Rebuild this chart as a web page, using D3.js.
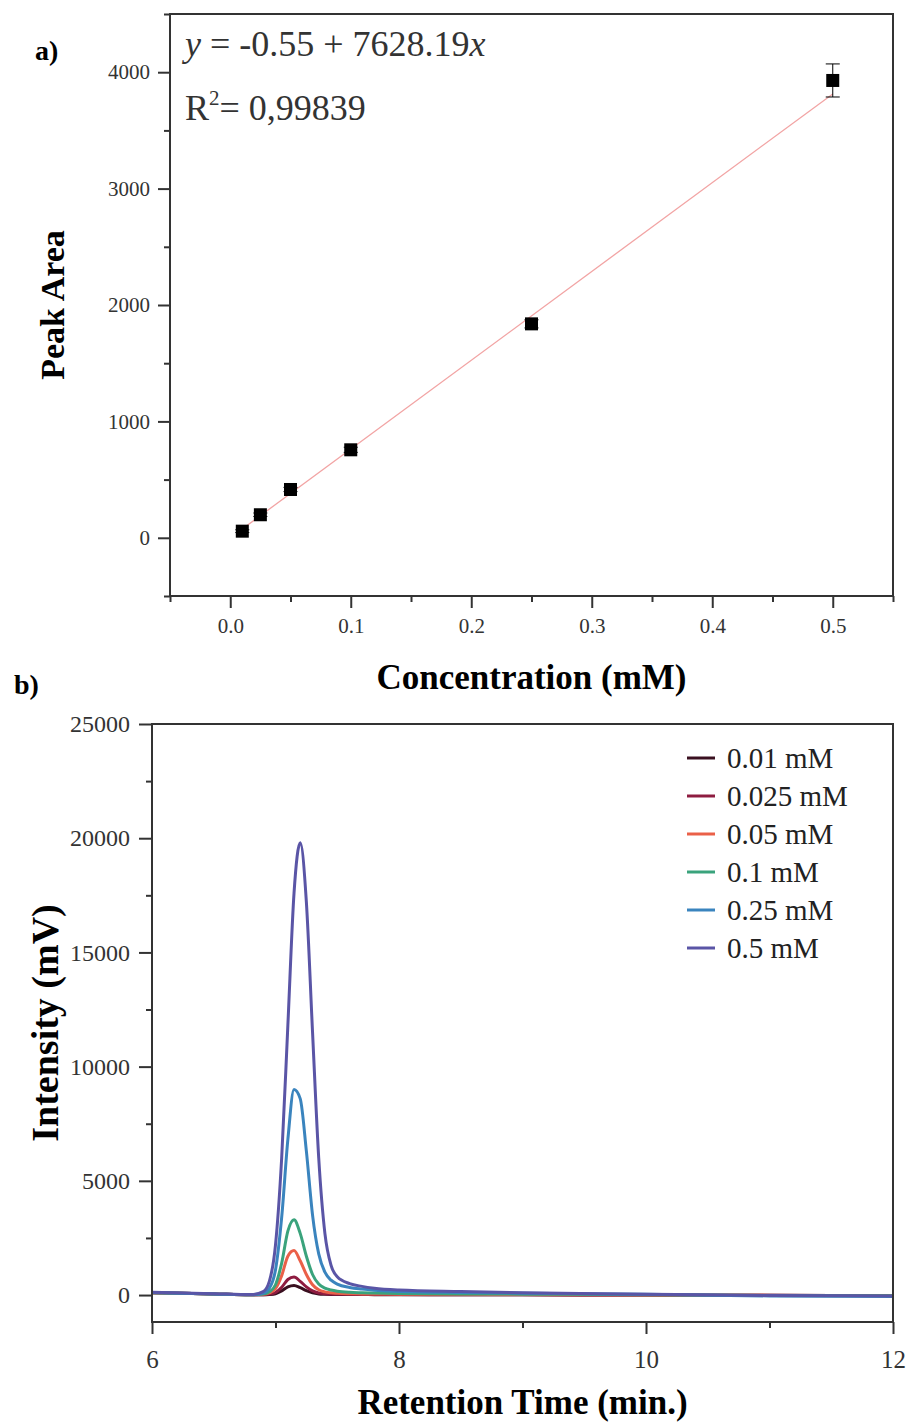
<!DOCTYPE html>
<html>
<head>
<meta charset="utf-8">
<script src="https://cdn.jsdelivr.net/npm/d3@7"></script>
<style>
  body { margin: 0; background: #fff; }
  svg { display: block; }
  text { font-family: "Liberation Serif", "Times New Roman", serif; }
</style>
</head>
<body>
<div id="chart"></div>
<script>
// ---- panel a : calibration ----
const concentrations = [0.01, 0.025, 0.05, 0.1, 0.25, 0.5];
const peakAreas      = [57, 198, 415, 756, 1838, 3929];
const areaErrors     = [12, 15, 18, 22, 35, 142];
const fitIntercept = -0.55;
const fitSlope = 7628.19;
const concTicks = [0, 0.1, 0.2, 0.3, 0.4, 0.5];
const areaTicks = [0, 1000, 2000, 3000, 4000];

// ---- panel b : chromatograms ----
const retentionTimes = [6.0, 6.5, 6.8, 6.9, 6.95, 7.0, 7.05, 7.1, 7.15, 7.2, 7.25, 7.3, 7.35, 7.4, 7.45, 7.5, 7.6, 7.7, 7.8, 8.0, 8.5, 9.0, 10.0, 11.0, 12.0];
const seriesLabels = ["0.01 mM", "0.025 mM", "0.05 mM", "0.1 mM", "0.25 mM", "0.5 mM"];
const seriesColors = ["#3a1020", "#8e1c40", "#ea6048", "#3aa37c", "#3a84be", "#5a55a6"];
const intensity001  = [100, 45, 10, 12, 25, 60, 180, 360, 420, 320, 190, 95, 50, 35, 28, 25, 22, 20, 18, 15, 12, 10, 0, -10, -20];
const intensity0025 = [100, 45, 10, 15, 40, 110, 340, 680, 790, 600, 360, 180, 90, 60, 45, 35, 30, 25, 22, 20, 15, 12, 0, -10, -20];
const intensity005  = [100, 45, 10, 30, 90, 280, 850, 1700, 1950, 1500, 900, 450, 230, 140, 100, 80, 60, 50, 45, 40, 30, 25, 5, -15, -25];
const intensity01   = [100, 45, 10, 40, 140, 450, 1400, 2800, 3300, 2700, 1700, 900, 480, 300, 220, 170, 120, 100, 85, 70, 50, 40, 10, -20, -30];
const intensity025  = [110, 50, 15, 80, 300, 1100, 3400, 6800, 9000, 8600, 6300, 3500, 1800, 1000, 650, 480, 330, 260, 210, 160, 110, 80, 30, -40, -60];
const intensity05   = [120, 60, 20, 150, 600, 2200, 6000, 11800, 17600, 19800, 17200, 11500, 6000, 2700, 1300, 800, 500, 380, 300, 220, 150, 100, 40, -20, -40];
const intensitySeries = [intensity001, intensity0025, intensity005, intensity01, intensity025, intensity05];
const timeTicks = [6, 8, 10, 12];
const intensityTicks = [0, 5000, 10000, 15000, 20000, 25000];

const width = 911, height = 1423;
const axisColor = "#333";

const svg = d3.select("#chart").append("svg")
  .attr("width", width).attr("height", height);

function minorTicks(major) {
  let out = [];
  for (let i = 0; i < major.length - 1; i++) out.push((major[i] + major[i + 1]) / 2);
  return out;
}

function styleAxis(g, fontSize) {
  g.select(".domain").remove();
  g.selectAll(".tick line").attr("stroke", axisColor).attr("stroke-width", 2);
  g.selectAll(".tick text").attr("fill", "#333").attr("font-size", fontSize)
    .attr("font-family", "Liberation Serif, serif");
}

// ================= panel a =================
let a = {left: 170, right: 893, top: 14, bottom: 596};
let xA = d3.scaleLinear().domain([-0.05, 0.55]).range([a.left, a.right]);
let yA = d3.scaleLinear().domain([-500, 4500]).range([a.bottom, a.top]);

svg.append("g").attr("transform", "translate(0," + a.bottom + ")")
  .call(d3.axisBottom(xA).tickValues([-0.05, 0.05, 0.15, 0.25, 0.35, 0.45, 0.55]).tickSize(6).tickFormat(""))
  .call(g => styleAxis(g, 21));
svg.append("g").attr("transform", "translate(0," + a.bottom + ")")
  .call(d3.axisBottom(xA).tickValues(concTicks).tickSize(12).tickPadding(10).tickFormat(d3.format(".1f")))
  .call(g => styleAxis(g, 21));
svg.append("g").attr("transform", "translate(" + a.left + ",0)")
  .call(d3.axisLeft(yA).tickValues([-500, 500, 1500, 2500, 3500, 4500]).tickSize(6).tickFormat(""))
  .call(g => styleAxis(g, 21));
svg.append("g").attr("transform", "translate(" + a.left + ",0)")
  .call(d3.axisLeft(yA).tickValues(areaTicks).tickSize(12).tickPadding(8).tickFormat(d3.format("d")))
  .call(g => styleAxis(g, 21));

svg.append("rect")
  .attr("x", a.left).attr("y", a.top)
  .attr("width", a.right - a.left).attr("height", a.bottom - a.top)
  .attr("fill", "none").attr("stroke", axisColor).attr("stroke-width", 2);

// linear fit
let fitX = [concentrations[0], concentrations[concentrations.length - 1]];
svg.append("line")
  .attr("x1", xA(fitX[0])).attr("y1", yA(fitIntercept + fitSlope * fitX[0]))
  .attr("x2", xA(fitX[1])).attr("y2", yA(fitIntercept + fitSlope * fitX[1]))
  .attr("stroke", "#f2a4a4").attr("stroke-width", 1.3);

let calib = concentrations.map((c, i) => ({c: c, v: peakAreas[i], e: areaErrors[i]}));
let eb = svg.append("g").attr("stroke", "#000").attr("stroke-width", 1);
calib.forEach(d => {
  eb.append("line").attr("x1", xA(d.c)).attr("x2", xA(d.c)).attr("y1", yA(d.v - d.e)).attr("y2", yA(d.v + d.e));
  eb.append("line").attr("x1", xA(d.c) - 7).attr("x2", xA(d.c) + 7).attr("y1", yA(d.v - d.e)).attr("y2", yA(d.v - d.e));
  eb.append("line").attr("x1", xA(d.c) - 7).attr("x2", xA(d.c) + 7).attr("y1", yA(d.v + d.e)).attr("y2", yA(d.v + d.e));
});
svg.append("g").selectAll("rect").data(calib).join("rect")
  .attr("x", d => xA(d.c) - 6.5).attr("y", d => yA(d.v) - 6.5)
  .attr("width", 13).attr("height", 13).attr("fill", "#000");

// equation
let eq = svg.append("text").attr("x", 185).attr("y", 56).attr("font-size", 36).attr("fill", "#333");
eq.append("tspan").attr("font-style", "italic").text("y");
eq.append("tspan").text(" = -0.55 + 7628.19");
eq.append("tspan").attr("font-style", "italic").text("x");
let r2 = svg.append("text").attr("x", 185).attr("y", 120).attr("font-size", 36).attr("fill", "#333");
r2.append("tspan").text("R");
r2.append("tspan").attr("font-size", 21).attr("dy", -15).text("2");
r2.append("tspan").attr("dy", 15).text("= 0,99839");

svg.append("text").attr("x", 35).attr("y", 60).attr("font-size", 28).attr("font-weight", "bold").text("a)");
svg.append("text").attr("x", (a.left + a.right) / 2).attr("y", 689)
  .attr("text-anchor", "middle").attr("font-size", 35).attr("font-weight", "bold").text("Concentration (mM)");
svg.append("text").attr("transform", "translate(64," + (a.top + a.bottom) / 2 + ") rotate(-90)")
  .attr("text-anchor", "middle").attr("font-size", 34).attr("font-weight", "bold").text("Peak Area");

// ================= panel b =================
let b = {left: 152, right: 893, top: 724, bottom: 1322};
let xB = d3.scaleLinear().domain([6, 12]).range([b.left, b.right]);
let yB = d3.scaleLinear().domain([-1180, 25000]).range([b.bottom, b.top]);

svg.append("g").attr("transform", "translate(0," + b.bottom + ")")
  .call(d3.axisBottom(xB).tickValues([7, 9, 11]).tickSize(6).tickFormat(""))
  .call(g => styleAxis(g, 25));
svg.append("g").attr("transform", "translate(0," + b.bottom + ")")
  .call(d3.axisBottom(xB).tickValues(timeTicks).tickSize(12).tickPadding(16).tickFormat(d3.format("d")))
  .call(g => styleAxis(g, 25));
svg.append("g").attr("transform", "translate(" + b.left + ",0)")
  .call(d3.axisLeft(yB).tickValues(minorTicks(intensityTicks)).tickSize(6).tickFormat(""))
  .call(g => styleAxis(g, 24));
svg.append("g").attr("transform", "translate(" + b.left + ",0)")
  .call(d3.axisLeft(yB).tickValues(intensityTicks).tickSize(13).tickPadding(9).tickFormat(d3.format("d")))
  .call(g => styleAxis(g, 24));

svg.append("clipPath").attr("id", "clipB").append("rect")
  .attr("x", b.left).attr("y", b.top).attr("width", b.right - b.left).attr("height", b.bottom - b.top);

let line = d3.line().x(d => xB(d[0])).y(d => yB(d[1])).curve(d3.curveMonotoneX);
svg.append("g").attr("clip-path", "url(#clipB)")
  .selectAll("path").data(intensitySeries).join("path")
  .attr("d", s => line(retentionTimes.map((t, i) => [t, s[i]])))
  .attr("fill", "none")
  .attr("stroke", (s, i) => seriesColors[i])
  .attr("stroke-width", 3)
  .attr("stroke-linejoin", "round");

svg.append("rect")
  .attr("x", b.left).attr("y", b.top)
  .attr("width", b.right - b.left).attr("height", b.bottom - b.top)
  .attr("fill", "none").attr("stroke", axisColor).attr("stroke-width", 2);

// legend
let legend = svg.append("g").attr("transform", "translate(687,758)");
seriesLabels.forEach((lab, i) => {
  let row = legend.append("g").attr("transform", "translate(0," + i * 38 + ")");
  row.append("line").attr("x1", 0).attr("x2", 28).attr("y1", 0).attr("y2", 0)
    .attr("stroke", seriesColors[i]).attr("stroke-width", 3);
  row.append("text").attr("x", 40).attr("y", 10).attr("font-size", 29).attr("fill", "#222").text(lab);
});

svg.append("text").attr("x", 14).attr("y", 694).attr("font-size", 28).attr("font-weight", "bold").text("b)");
svg.append("text").attr("x", (b.left + b.right) / 2).attr("y", 1414)
  .attr("text-anchor", "middle").attr("font-size", 35).attr("font-weight", "bold").text("Retention Time (min.)");
svg.append("text").attr("transform", "translate(58," + (b.top + b.bottom) / 2 + ") rotate(-90)")
  .attr("text-anchor", "middle").attr("font-size", 38).attr("font-weight", "bold").text("Intensity (mV)");
</script>
</body>
</html>
